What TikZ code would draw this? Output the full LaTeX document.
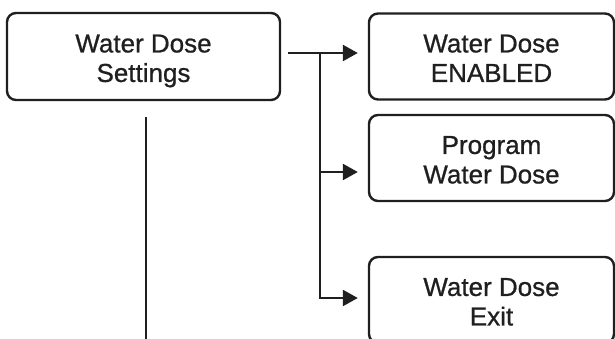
\documentclass[tikz,border=0pt]{standalone}
\usepackage{fontspec}
\setmainfont[FakeBold=0.8]{Liberation Sans}
\usetikzlibrary{arrows.meta,calc}
\newcommand{\boxtext}[2]{\raisebox{-4.5pt}[\height][\depth]{\begin{tabular}{@{}c@{}}#1\\[-1.5pt]#2\end{tabular}}}
\begin{document}
\begin{tikzpicture}[x=1pt,y=-1pt,
  box/.style={draw=black!88, line width=2.4pt, rounded corners=9pt, align=center,
    font=\fontsize{26}{31}\selectfont, text=black!88, inner sep=0pt},
  leftbox/.style={box, minimum width=273pt, minimum height=87pt},
  rightbox/.style={box, minimum width=245pt, minimum height=86pt},
  conn/.style={line width=2.4pt, draw=black!88},
  arr/.style={conn, -{Triangle[length=15pt,width=16pt]}}]
\path[use as bounding box] (0,0) rectangle (615,339);
\begin{scope}
\clip (0,0) rectangle (615,339);
\node[leftbox] (ws) at (143.5,56.5) {\boxtext{Water Dose}{Settings}};
\node[rightbox] (en) at (491.5,56.5) {\boxtext{Water Dose}{ENABLED}};
\node[rightbox] (pg) at (491.5,158) {\boxtext{Program}{Water Dose}};
\node[rightbox] (ex) at (491.5,300) {\boxtext{Water Dose}{Exit}};
\coordinate (br) at ($(ws.east)+(39,-3.5)$);
\coordinate (vt) at ($(ws.south)+(2.5,16)$);
\coordinate (vb) at ($(ws.south)+(2.5,240)$);
\draw[arr] ($(ws.east)+(7,-3.5)$) -- ($(en.west)+(-10,-3.5)$);
\draw[arr] (br) |- ($(ex.west)+(-10,-2)$);
\draw[arr] (br |- 0,172) -- ($(pg.west |- 0,172)+(-10,0)$);
\draw[conn] (vt) -- (vb);
\end{scope}
\end{tikzpicture}
\end{document}
